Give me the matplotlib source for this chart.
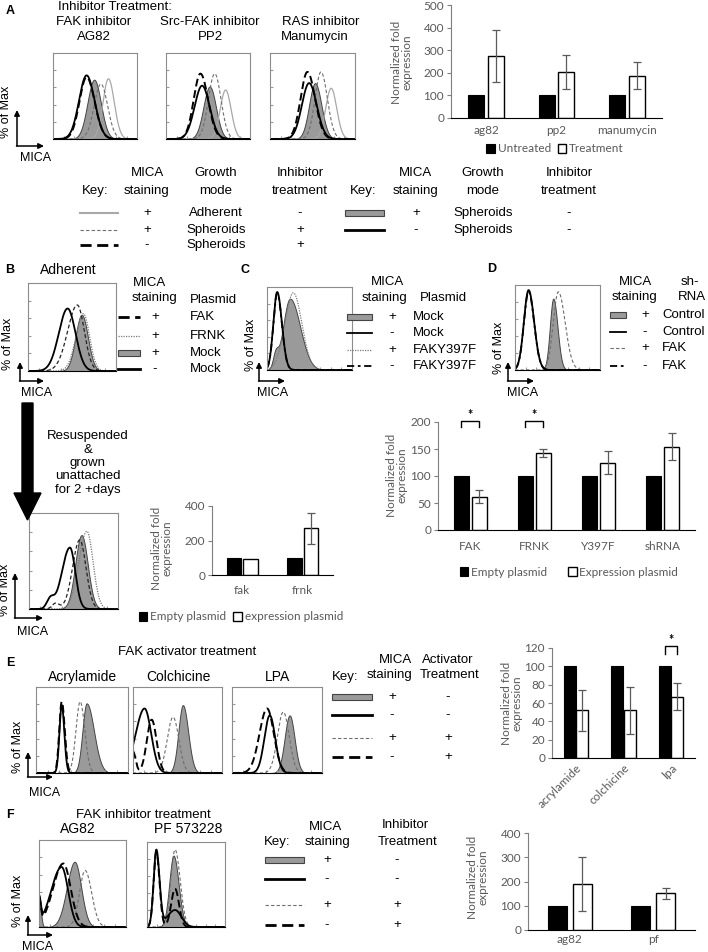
import numpy as np
import matplotlib.pyplot as plt
from matplotlib.patches import Rectangle, Polygon

W, H = 708, 952
FLOW_FONT = 'Liberation Sans'
BAR_FONT = 'Lato'
GREY_TXT = '#595959'
FILL = '#9a9a9a'
FILL_EDGE = '#444444'

# ---------------- bar chart data ----------------
a_cats = ['ag82', 'pp2', 'manumycin']
a_untreated = [100, 100, 100]
a_treated = [275, 202, 188]
a_err = [115, 75, 60]

b_cats = ['fak', 'frnk']
b_empty = [100, 100]
b_expr = [95, 270]
b_err = [0, 90]

d_cats = ['FAK', 'FRNK', 'Y397F', 'shRNA']
d_empty = [100, 100, 100, 100]
d_expr = [62, 143, 125, 154]
d_err = [12, 7, 22, 25]
d_sig = [True, True, False, False]

e_cats = ['acrylamide', 'colchicine', 'lpa']
e_untreated = [100, 100, 100]
e_treated = [52, 52, 67]
e_err = [22, 26, 15]
e_sig = [False, False, True]

f_cats = ['ag82', 'pf']
f_untreated = [100, 100]
f_treated = [190, 152]
f_err = [110, 23]

# ---------------- flow histogram peaks ----------------
# each curve: (style, [(centre, left width, right width, height), ...]) in box fractions
hist_a_ag82 = [('fill', [(0.49, 0.08, 0.08, 0.69)]),
               ('light', [(0.66, 0.065, 0.07, 0.70)]),
               ('gdash', [(0.57, 0.08, 0.08, 0.64)]),
               ('solid', [(0.40, 0.09, 0.095, 0.74)]),
               ('bdash', [(0.40, 0.085, 0.095, 0.72)])]
hist_a_pp2 = [('fill', [(0.52, 0.075, 0.075, 0.61)]),
              ('light', [(0.71, 0.065, 0.065, 0.57)]),
              ('gdash', [(0.58, 0.075, 0.075, 0.76)]),
              ('solid', [(0.43, 0.09, 0.09, 0.62)]),
              ('bdash', [(0.41, 0.08, 0.09, 0.76)])]
hist_a_manu = [('fill', [(0.53, 0.07, 0.075, 0.65)]),
               ('light', [(0.72, 0.065, 0.065, 0.59)]),
               ('gdash', [(0.60, 0.07, 0.075, 0.78)]),
               ('solid', [(0.46, 0.085, 0.09, 0.65)]),
               ('bdash', [(0.44, 0.08, 0.09, 0.78)])]
hist_b_adh = [('fill', [(0.61, 0.07, 0.07, 0.64)]),
              ('dot', [(0.63, 0.085, 0.07, 0.65)]),
              ('bdash2', [(0.56, 0.11, 0.08, 0.75)]),
              ('solid', [(0.45, 0.10, 0.09, 0.71)])]
hist_b_sph = [('fill', [(0.59, 0.07, 0.07, 0.77)]),
              ('dot', [(0.65, 0.09, 0.07, 0.81)]),
              ('bdash2', [(0.57, 0.08, 0.07, 0.72), (0.30, 0.04, 0.04, 0.06)]),
              ('solid', [(0.46, 0.09, 0.06, 0.64), (0.24, 0.04, 0.04, 0.10)])]
hist_c = [('fill', [(0.27, 0.08, 0.12, 0.86), (0.10, 0.03, 0.03, 0.16)]),
          ('dot', [(0.31, 0.10, 0.10, 0.93)]),
          ('solid', [(0.12, 0.045, 0.055, 0.94)]),
          ('dashdot', [(0.12, 0.045, 0.055, 0.92)])]
hist_d = [('fill', [(0.45, 0.04, 0.05, 0.84)]),
          ('gdash', [(0.51, 0.06, 0.08, 0.92)]),
          ('solid', [(0.16, 0.055, 0.065, 0.94)]),
          ('dashdot', [(0.16, 0.055, 0.065, 0.92)])]
hist_e_acr = [('fill', [(0.55, 0.045, 0.08, 0.81)]),
              ('gdash', [(0.48, 0.045, 0.05, 0.83)]),
              ('solid', [(0.28, 0.025, 0.028, 0.79)]),
              ('bdash', [(0.28, 0.027, 0.032, 0.83)])]
hist_e_col = [('fill', [(0.56, 0.05, 0.06, 0.79)]),
              ('gdash', [(0.45, 0.065, 0.065, 0.65)]),
              ('solid', [(0.13, 0.10, 0.075, 0.75)]),
              ('bdash', [(0.21, 0.055, 0.055, 0.62), (0.0, 0.02, 0.03, 0.25)])]
hist_e_lpa = [('fill', [(0.64, 0.055, 0.055, 0.67)]),
              ('gdash', [(0.57, 0.065, 0.065, 0.71)]),
              ('solid', [(0.42, 0.06, 0.06, 0.67)]),
              ('bdash', [(0.39, 0.085, 0.075, 0.75)])]
hist_f_ag82 = [('fill', [(0.41, 0.09, 0.075, 0.75), (0.0, 0.015, 0.02, 0.35)]),
               ('gdash', [(0.53, 0.065, 0.075, 0.65)]),
               ('solid', [(0.26, 0.12, 0.075, 0.69), (0.0, 0.01, 0.02, 0.30)]),
               ('bdash', [(0.28, 0.12, 0.085, 0.73), (0.0, 0.01, 0.02, 0.30)])]
hist_f_pf = [('fill', [(0.34, 0.055, 0.065, 0.84)]),
             ('gdash', [(0.36, 0.055, 0.065, 0.91)]),
             ('solid', [(0.12, 0.035, 0.04, 0.90), (0.36, 0.10, 0.08, 0.20)]),
             ('bdash', [(0.12, 0.035, 0.04, 0.88), (0.36, 0.05, 0.05, 0.45)])]

STY = {
    'solid': dict(color='black', lw=1.3, ls='-'),
    'bdash': dict(color='black', lw=1.4, ls=(0, (4, 2))),
    'bdash2': dict(color='#222222', lw=0.9, ls=(0, (3, 2))),
    'gdash': dict(color='#6e6e6e', lw=0.8, ls=(0, (3, 2))),
    'light': dict(color='#a8a8a8', lw=0.9, ls='-'),
    'dot': dict(color='#7a7a7a', lw=0.9, ls=(0, (1, 1))),
    'dashdot': dict(color='black', lw=1.3, ls=(0, (4, 2, 1.5, 2))),
}

fig = plt.figure(figsize=(W / 100, H / 100), dpi=100)


def px_axes(x0, y0, x1, y1):
    return fig.add_axes([x0 / W, 1 - y1 / H, (x1 - x0) / W, (y1 - y0) / H])


# overlay in pixel coordinates for texts, keys and arrows
ov = fig.add_axes([0, 0, 1, 1])
ov.set_xlim(0, W)
ov.set_ylim(H, 0)
ov.axis('off')
ov.set_zorder(10)


def txt(x, y, s, size=9.5, ha='center', va='center', **kw):
    kw.setdefault('family', FLOW_FONT)
    ov.text(x, y, s, fontsize=size, ha=ha, va=va, **kw)


def sample(x0, x1, y, style, lw=None):
    if style == 'fill':
        ov.add_patch(Rectangle((x0, y - 3), x1 - x0, 6, fc=FILL, ec=FILL_EDGE, lw=0.8))
    else:
        st = dict(STY[style])
        if lw:
            st['lw'] = lw
        ov.plot([x0, x1], [y, y], **st)


def axis_arrows(xv, ycorner, ytop, xright, tx, ty, mx, my):
    ap = dict(arrowstyle='-|>', color='black', lw=1.1, mutation_scale=8, shrinkA=0, shrinkB=0)
    ov.annotate('', xy=(xv, ytop), xytext=(xv, ycorner), arrowprops=ap)
    ov.annotate('', xy=(xright, ycorner), xytext=(xv - 0.5, ycorner), arrowprops=ap)
    txt(tx, ty, '% of Max', size=9, rotation=90)
    txt(mx, my, 'MICA', size=9)


def hist_panel(box, curves):
    ax = px_axes(*box)
    xs = np.linspace(0, 1, 400)
    for style, peaks in curves:
        ys = np.zeros_like(xs)
        for c, sl, sr, h in peaks:
            s = np.where(xs < c, sl, sr)
            ys += h * np.exp(-0.5 * ((xs - c) / s) ** 2)
        if style == 'fill':
            ax.fill_between(xs, ys, facecolor=FILL, edgecolor=FILL_EDGE, lw=0.7, zorder=1)
        else:
            ax.plot(xs, ys, zorder=2, **STY[style])
    ax.set_xlim(0, 1)
    ax.set_ylim(0, 1)
    ax.set_xticks(np.linspace(0, 1, 9)[1:-1])
    ax.set_yticks([0.2, 0.4, 0.6, 0.8])
    ax.tick_params(direction='in', length=2, color='#9a9a9a',
                   labelbottom=False, labelleft=False)
    for sp in ax.spines.values():
        sp.set_color('#8c8c8c')
        sp.set_linewidth(0.8)
    ax.spines['bottom'].set_color('black')
    return ax


def bar_panel(box, cats, first, second, err, ylim, yticks, sig=None, sig_lv=None,
              width=0.23, off=0.14, rot=False, pad=4, labels=None, leg_xy=None, colsp=1.0):
    ax = px_axes(*box)
    x = np.arange(len(cats))
    b1 = ax.bar(x - off, first, width, color='black', edgecolor='black', lw=0.8)
    b2 = ax.bar(x + off, second, width, color='white', edgecolor='black', lw=1.0)
    for i, e in enumerate(err):
        if e:
            ax.errorbar(x[i] + off, second[i], yerr=e, color='#5a5a5a', lw=0.9,
                        capsize=3, capthick=0.9)
    if sig is not None:
        lo, hi = sig_lv
        for i, s in enumerate(sig):
            if s:
                ax.plot([i - off, i - off, i + off, i + off], [lo, hi, hi, lo],
                        color='black', lw=1.0, clip_on=False)
                ax.text(i, hi, '*', ha='center', va='bottom', fontsize=9,
                        fontweight='bold', family=BAR_FONT)
    ax.set_xlim(-0.5, len(cats) - 0.5)
    ax.set_ylim(*ylim)
    ax.set_yticks(yticks)
    ax.set_xticks(x)
    if rot:
        ax.set_xticklabels(cats, rotation=45, ha='right', rotation_mode='anchor')
    else:
        ax.set_xticklabels(cats)
    for lab in ax.get_xticklabels() + ax.get_yticklabels():
        lab.set_family(BAR_FONT)
        lab.set_fontsize(8.5)
        lab.set_color(GREY_TXT)
    ax.spines['top'].set_visible(False)
    ax.spines['right'].set_visible(False)
    ax.spines['left'].set_color('#7f7f7f')
    ax.spines['bottom'].set_color('black')
    ax.tick_params(axis='x', length=0, pad=pad)
    ax.tick_params(axis='y', length=3, color='#7f7f7f', pad=2)
    ax.patch.set_alpha(0)
    if labels:
        ax.legend([b1, b2], labels, loc='center', bbox_to_anchor=(leg_xy[0] / W, 1 - leg_xy[1] / H),
                  bbox_transform=fig.transFigure, ncol=2, frameon=False,
                  handlelength=0.7, handleheight=0.7, handletextpad=0.25,
                  columnspacing=colsp, prop=dict(family=BAR_FONT, size=8.5),
                  labelcolor=GREY_TXT)
    return ax


def ylab(x, y, s='Normalized fold\nexpression'):
    ov.text(x, y, s, rotation=90, ha='center', va='center', fontsize=8.5,
            family=BAR_FONT, color=GREY_TXT, linespacing=0.95)


# ================= Panel A =================
txt(10, 11, 'A', size=9, weight='bold')
txt(58, 7, 'Inhibitor Treatment:', ha='left')
for cx, l1, l2 in [(94, 'FAK inhibitor', 'AG82'), (210, 'Src-FAK inhibitor', 'PP2'),
                   (321, 'RAS inhibitor', 'Manumycin')]:
    txt(cx, 22, l1)
    txt(cx - (6 if l2 == 'Manumycin' else 0), 37, l2)
hist_panel((53, 53, 137, 139), hist_a_ag82)
hist_panel((166, 53, 250, 139), hist_a_pp2)
hist_panel((270, 53, 355, 139), hist_a_manu)
axis_arrows(17, 146, 110, 44, 6, 112, 36, 158)

bar_panel((451, 5, 662, 118), a_cats, a_untreated, a_treated, a_err, (0, 500),
          range(0, 501, 100), pad=5, labels=['Untreated', 'Treatment'], leg_xy=(555, 149),
          colsp=0.6)
ylab(402, 62)

# key of panel A
for cx, l1, l2 in [(95, '', 'Key:'), (147, 'MICA', 'staining'), (216, 'Growth', 'mode'),
                   (300, 'Inhibitor', 'treatment'), (363, '', 'Key:'), (416, 'MICA', 'staining'),
                   (483, 'Growth', 'mode'), (569, 'Inhibitor', 'treatment')]:
    if l1:
        txt(cx, 173, l1)
    txt(cx, 191, l2)
key_a_left = [('light', '+', 'Adherent', '-'), ('gdash', '+', 'Spheroids', '+'),
              ('bdash', '-', 'Spheroids', '+')]
key_a_right = [('fill', '+', 'Spheroids', '-'), ('solid', '-', 'Spheroids', '-')]
for ry, (st, s1, s2, s3) in zip([213, 230, 245], key_a_left):
    sample(80, 118, ry, st, lw=2.0 if st == 'bdash' else (1.5 if st == 'light' else None))
    txt(147, ry, s1)
    txt(216, ry, s2)
    txt(300, ry, s3)
for ry, (st, s1, s2, s3) in zip([213, 230], key_a_right):
    sample(345, 384, ry, st, lw=2.0 if st == 'solid' else None)
    txt(416, ry, s1)
    txt(483, ry, s2)
    txt(569, ry, s3)

# ================= Panel B =================
txt(10, 270, 'B', size=9, weight='bold')
txt(68, 270, 'Adherent', size=10)
hist_panel((28, 283, 116, 371), hist_b_adh)
axis_arrows(20, 381, 362, 44, 8, 344, 37, 393)
txt(150, 283, 'MICA')
txt(155, 298, 'staining')
txt(190, 300, 'Plasmid', ha='left')
key_b = [('bdash', '+', 'FAK'), ('dot', '+', 'FRNK'), ('fill', '+', 'Mock'), ('solid', '-', 'Mock')]
for ry, (st, s1, s2) in zip([317, 336, 353, 369], key_b):
    sample(118, 140, ry, st, lw=2.0 if st in ('bdash', 'solid') else None)
    txt(155, ry, s1)
    txt(190, ry, s2, ha='left')

ov.add_patch(Polygon([(22, 403), (33, 403), (33, 493), (41, 493), (27.5, 520), (14, 493), (22, 493)],
                     closed=True, fc='black', ec='black'))
txt(88, 463, 'Resuspended\n&\ngrown\nunattached\nfor 2 +days', linespacing=1.15)
hist_panel((29, 513, 118, 609), hist_b_sph)
axis_arrows(15, 618, 573, 43, 5, 590, 33, 632)

bar_panel((212, 506, 333, 575), b_cats, b_empty, b_expr, b_err, (0, 400), [0, 200, 400],
          width=0.24, off=0.14, pad=7, labels=['Empty plasmid', 'expression plasmid'],
          leg_xy=(241, 617), colsp=0.6)
ylab(162, 548)

# ================= Panel C =================
txt(245, 270, 'C', size=9, weight='bold')
hist_panel((267, 287, 352, 370), hist_c)
axis_arrows(259, 381, 362, 285, 251, 345, 273, 393)
txt(388, 282, 'MICA')
txt(385, 298, 'staining')
txt(420, 298, 'Plasmid', ha='left')
key_c = [('fill', '+', 'Mock'), ('solid', '-', 'Mock'), ('dot', '+', 'FAKY397F'),
         ('dashdot', '-', 'FAKY397F')]
for ry, (st, s1, s2) in zip([317, 333, 350, 366], key_c):
    sample(347, 372, ry, st)
    txt(392, ry, s1)
    txt(413, ry, s2, ha='left')

# ================= Panel D =================
txt(492, 269, 'D', size=9, weight='bold')
hist_panel((515, 285, 600, 370), hist_d)
axis_arrows(508, 381, 362, 534, 499, 348, 523, 393)
txt(635, 282, 'MICA')
txt(635, 297, 'staining')
txt(690, 282, 'sh-')
txt(692, 297, 'RNA')
key_d = [('fill', '+', 'Control'), ('solid', '-', 'Control'), ('gdash', '+', 'FAK'),
         ('dashdot', '-', 'FAK')]
for ry, (st, s1, s2) in zip([315, 332, 348, 366], key_d):
    sample(610, 626, ry, st)
    txt(645, ry, s1)
    txt(662, ry, s2, ha='left')

bar_panel((438, 422, 695, 530), d_cats, d_empty, d_expr, d_err, (0, 200), range(0, 201, 50),
          sig=d_sig, sig_lv=(190, 202), width=0.23, off=0.14, pad=8,
          labels=['Empty plasmid', 'Expression plasmid'], leg_xy=(569, 572), colsp=1.8)
ylab(397, 475)

# ================= Panel E =================
txt(187, 652, 'FAK activator treatment')
txt(10, 663, 'E', size=9, weight='bold')
for cx, t in [(83, 'Acrylamide'), (178, 'Colchicine'), (277, 'LPA')]:
    txt(cx, 677, t, size=10)
hist_panel((36, 687, 128, 773), hist_e_acr)
hist_panel((133, 687, 222, 773), hist_e_col)
hist_panel((232, 687, 322, 773), hist_e_lpa)
axis_arrows(28, 777, 752, 53, 18, 747, 45, 793)
txt(345, 677, 'Key:')
txt(395, 660, 'MICA')
txt(390, 675, 'staining')
txt(448, 660, 'Activator')
txt(450, 675, 'Treatment')
key_e = [('fill', '+', '-'), ('solid', '-', '-'), ('gdash', '+', '+'), ('bdash', '-', '+')]
for ry, (st, s1, s2) in zip([697, 715, 738, 757], key_e):
    sample(332, 372, ry, st, lw=2.0 if st in ('bdash', 'solid') else None)
    txt(392, ry, s1)
    txt(448, ry, s2)

bar_panel((552, 648, 695, 758), e_cats, e_untreated, e_treated, e_err, (0, 120),
          range(0, 121, 20), sig=e_sig, sig_lv=(114, 122), width=0.25, off=0.13,
          rot=True, pad=3)
ylab(512, 703)

# ================= Panel F =================
txt(10, 815, 'F', size=9, weight='bold')
txt(143, 815, 'FAK inhibitor treatment')
txt(78, 829, 'AG82', size=10)
txt(188, 829, 'PF 573228', size=10)
hist_panel((39, 840, 126, 927), hist_f_ag82)
hist_panel((147, 842, 225, 927), hist_f_pf)
axis_arrows(28, 935, 915, 53, 18, 901, 38, 947)
txt(277, 842, 'Key:')
txt(325, 827, 'MICA')
txt(328, 842, 'staining')
txt(405, 825, 'Inhibitor')
txt(408, 842, 'Treatment')
key_f = [('fill', '+', '-'), ('solid', '-', '-'), ('gdash', '+', '+'), ('bdash', '-', '+')]
for ry, (st, s1, s2) in zip([860, 879, 905, 925], key_f):
    sample(265, 304, ry, st, lw=2.0 if st in ('bdash', 'solid') else None)
    txt(327, ry, s1)
    txt(397, ry, s2)

bar_panel((528, 833, 695, 930), f_cats, f_untreated, f_treated, f_err, (0, 400),
          range(0, 401, 100), width=0.23, off=0.15, pad=3)
ylab(478, 877)

fig.savefig('out.png', dpi=100)
